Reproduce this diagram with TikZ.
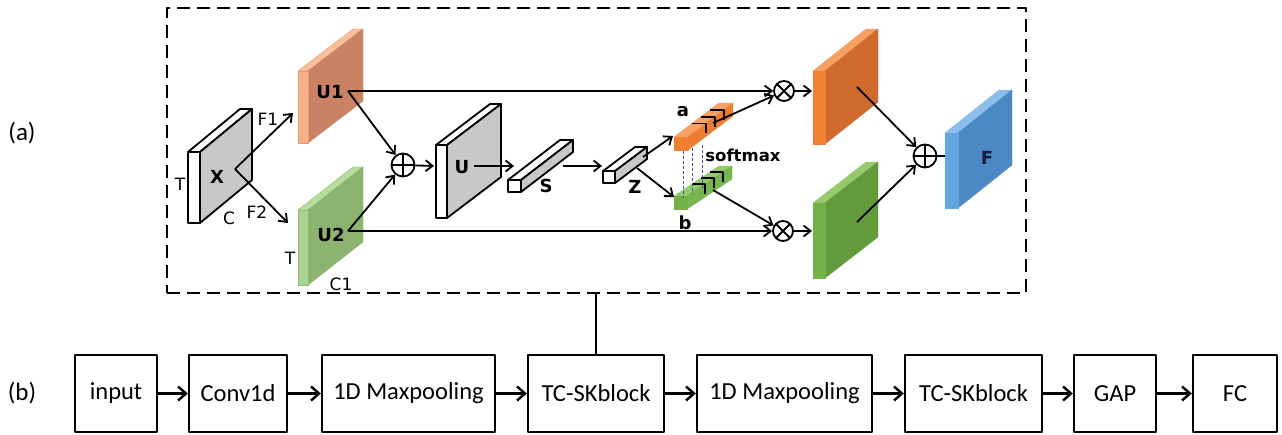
\documentclass[tikz,border=0pt]{standalone}
\usepackage{fontspec}
\setmainfont{Carlito}
\newfontfamily\labfont{DejaVu Sans}
\usetikzlibrary{arrows.meta}
\definecolor{uonetop}{RGB}{248,192,155}
\definecolor{uonefront}{RGB}{246,176,140}
\definecolor{uoneside}{RGB}{201,130,100}
\definecolor{uoneedge}{RGB}{240,150,105}
\definecolor{utwotop}{RGB}{184,220,158}
\definecolor{utwofront}{RGB}{170,210,145}
\definecolor{utwoside}{RGB}{140,180,112}
\definecolor{utwoedge}{RGB}{140,190,100}
\definecolor{ortop}{RGB}{246,160,100}
\definecolor{orfront}{RGB}{240,128,50}
\definecolor{orside}{RGB}{208,106,45}
\definecolor{grtop}{RGB}{150,200,110}
\definecolor{grfront}{RGB}{115,178,72}
\definecolor{grside}{RGB}{98,155,60}
\definecolor{bltop}{RGB}{140,190,235}
\definecolor{blfront}{RGB}{100,165,225}
\definecolor{blside}{RGB}{76,136,196}
\definecolor{slabgray}{RGB}{200,200,200}
\definecolor{softblue}{RGB}{47,85,151}
\definecolor{fnavy}{RGB}{20,30,60}
% #1 x0, #2 ytop, #3 w, #4 h, #5 dx, #6 dy, #7 front style, #8 top style, #9 side style
\newcommand{\slabshape}[9]{%
  \filldraw[#8] (#1,#2) -- (#1+#3,#2) -- (#1+#3+#5,#2+#6) -- (#1+#5,#2+#6) -- cycle;
  \filldraw[#9] (#1+#3,#2) -- (#1+#3+#5,#2+#6) -- (#1+#3+#5,#2+#4+#6) -- (#1+#3,#2+#4) -- cycle;
  \filldraw[#7] (#1,#2) rectangle (#1+#3,#2+#4);
}
\begin{document}
\begin{tikzpicture}[x=1pt,y=-1pt,line join=round,
  arr/.style={-{Straight Barb[length=7pt,width=11pt,line width=1.8pt]},line width=1.8pt},
  barr/.style={-{Straight Barb[length=8pt,width=14pt,line width=2.4pt]},line width=2.4pt},
  lbl/.style={font=\labfont\fontsize{18}{20}\selectfont\bfseries,inner sep=0pt},
  lblsm/.style={font=\labfont\fontsize{16.5}{20}\selectfont\bfseries,inner sep=0pt},
  lblr/.style={font=\labfont\fontsize{17}{20}\selectfont,inner sep=0pt},
  tag/.style={font=\fontsize{25}{28}\selectfont,inner sep=0pt},
  blk/.style={draw,line width=2.3pt,minimum height=77pt,inner sep=0pt,font=\fontsize{24.5}{28}\selectfont},
  opl/.style={draw,circle,line width=1.8pt,minimum size=23pt,inner sep=0pt,
    path picture={\draw[line width=1.8pt] (path picture bounding box.north) -- (path picture bounding box.south)
      (path picture bounding box.west) -- (path picture bounding box.east);}},
  otm/.style={draw,circle,line width=1.8pt,minimum size=20pt,inner sep=0pt,
    path picture={\draw[line width=1.8pt] (path picture bounding box.north west) -- (path picture bounding box.south east)
      (path picture bounding box.south west) -- (path picture bounding box.north east);}},
  edge/.style={draw=black,line width=1.8pt},
  thin/.style={line width=1pt}
]
\useasboundingbox (0,0) rectangle (1282,434);
\fill[white] (0,0) rectangle (1282,434);

% ---------- labels (a), (b)
\node[tag] (taga) at (22,133) {(a)};
\node[tag] (tagb) at (22,393) {(b)};

% ---------- dashed frame
\node[draw,line width=2.4pt,dash pattern=on 13pt off 7pt,minimum width=859pt,minimum height=285pt,inner sep=0pt] (frame) at (596.5,150.5) {};

% ---------- X slab
\slabshape{188}{152}{12}{71}{52}{-43}{fill=white,edge}{fill=white,edge}{fill=slabgray,edge}
\node[lbl] (xl) at (217,177) {X};
\node[lblr] (xt) at (180,184) {T};
\node[lblr] (xcc) at (229,218) {C};
\node[lblr] (f1) at (268,119) {F1};
\node[lblr] (f2) at (257,212) {F2};
\coordinate (xc) at (235,169);

% ---------- U1, U2 slabs
\slabshape{298}{71}{10}{72}{55}{-42}{fill=uonefront,draw=uoneedge}{fill=uonetop,draw=uoneedge}{fill=uoneside,draw=uoneside}
\slabshape{298}{210}{10}{75}{55}{-43}{fill=utwofront,draw=utwoedge}{fill=utwotop,draw=utwoedge}{fill=utwoside,draw=utwoside}
\node[lbl] (u1l) at (330,92) {U1};
\node[lbl] (u2l) at (331,235) {U2};
\node[lblr] (u2t) at (290,258) {T};
\node[lblr] (u2c) at (341,284) {C1};
\coordinate (u1in) at (293,113);
\coordinate (u2in) at (288,223);
\coordinate (u1e) at (348,91);
\coordinate (u2e) at (348,231);

% ---------- U slab
\slabshape{436}{145}{11}{73}{54}{-41}{fill=white,edge}{fill=white,edge}{fill=slabgray,edge}
\node[lbl] (ul) at (462,167) {U};
\coordinate (uin) at (434,166);
\coordinate (uout) at (474,166);

% ---------- S, Z bars
\slabshape{508}{180}{13}{12}{52}{-40}{fill=white,edge}{fill=white,edge}{fill=slabgray,edge}
\node[lbl] (sl) at (546,186) {S};
\coordinate (sin) at (514,166);
\coordinate (sout) at (563,166);
\slabshape{603}{171}{12}{12}{32}{-24}{fill=white,edge}{fill=white,edge}{fill=slabgray,edge}
\node[lbl] (zl) at (635,187) {Z};
\coordinate (zin) at (602,166);
\coordinate (zouta) at (643,157);
\coordinate (zoutb) at (637,168);

% ---------- a, b vectors
\slabshape{674}{137}{14}{13}{45}{-34}{fill=orfront,draw=orfront}{fill=ortop,draw=ortop}{fill=orfront!90!orside,draw=orfront}
\slabshape{674}{196}{13}{13}{45}{-30}{fill=grfront,draw=grfront}{fill=grtop,draw=grtop}{fill=grfront!85!grtop,draw=grfront}
\foreach \t in {0.4,0.6,0.8}{
  \draw[line width=1.8pt] (674+\t*45,137-\t*34) -- ++(14,0) -- ++(0,10);
  \draw[line width=1.8pt] (674+\t*45,196-\t*30) -- ++(13,0) -- ++(0,10);
}
\draw[softblue,thin,dash pattern=on 3pt off 2pt] (683,151) -- (683,198);
\draw[softblue,thin,dash pattern=on 3pt off 2pt] (692,148) -- (692,194);
\draw[softblue,thin,dash pattern=on 3pt off 2pt] (702,145) -- (702,189);
\node[lbl] (al) at (683,112) {a};
\node[lbl] (bl) at (685,223) {b};
\node[lblsm] (sm) at (743,155) {softmax};
\coordinate (ain) at (673,136);
\coordinate (bin) at (674,197);
\coordinate (aout) at (713,123);
\coordinate (bout) at (713,190);

% ---------- otimes
\node[otm] (ot1) at (784,91) {};
\node[otm] (ot2) at (783,231) {};

% ---------- right plates
\slabshape{813}{71}{12}{73}{53}{-42}{fill=orfront,draw=orfront}{fill=ortop,draw=ortop}{fill=orside,draw=orside}
\slabshape{813}{203}{12}{75}{53}{-41}{fill=grfront,draw=grfront}{fill=grtop,draw=grtop}{fill=grside,draw=grside}
\coordinate (oin) at (812,91);
\coordinate (gin) at (812,231);
\coordinate (oc) at (857,87);
\coordinate (gc) at (857,222);

% ---------- oplus
\node[opl] (op1) at (403,165) {};
\node[opl] (op2) at (925,156) {};

% ---------- F slab
\slabshape{945}{133}{13}{75}{54}{-43}{fill=blfront,draw=blfront}{fill=bltop,draw=bltop}{fill=blside,draw=blside}
\node[lbl,text=fnavy] (fl) at (987,158) {F};
\coordinate (fin) at (945,156);

% ---------- connectors (top)
\draw[arr] (xc) -- (u1in);
\draw[arr] (xc) -- (u2in);
\draw[arr] (u1e) -- (op1);
\draw[arr] (u2e) -- (op1);
\draw[arr] (op1) -- (uin);
\draw[arr] (u1e) -- (ot1);
\draw[arr] (u2e) -- (ot2);
\draw[arr] (uout) -- (sin);
\draw[arr] (sout) -- (zin);
\draw[arr] (zouta) -- (ain);
\draw[arr] (zoutb) -- (bin);
\draw[arr] (aout) -- (ot1);
\draw[arr] (bout) -- (ot2);
\draw[arr] (ot1) -- (oin);
\draw[arr] (ot2) -- (gin);
\draw[arr] (oc) -- (op2);
\draw[arr] (gc) -- (op2);
\draw[line width=1.8pt] (op2) -- (fin);

% ---------- bottom row
\node[blk,minimum width=82pt] (inp) at (116,393.5) {input};
\node[blk,minimum width=98pt] (conv) at (238,393.5) {Conv1d};
\node[blk,minimum width=173pt] (mp1) at (408.5,393.5) {1D Maxpooling};
\node[blk,minimum width=136pt] (tc1) at (596,393.5) {TC-SKblock};
\node[blk,minimum width=175pt] (mp2) at (784.5,393.5) {1D Maxpooling};
\node[blk,minimum width=137pt] (tc2) at (973.5,393.5) {TC-SKblock};
\node[blk,minimum width=82pt] (gap) at (1115,393.5) {GAP};
\node[blk,minimum width=84pt] (fc) at (1235,393.5) {FC};
\draw[barr] (inp) -- (conv);
\draw[barr] (conv) -- (mp1);
\draw[barr] (mp1) -- (tc1);
\draw[barr] (tc1) -- (mp2);
\draw[barr] (mp2) -- (tc2);
\draw[barr] (tc2) -- (gap);
\draw[barr] (gap) -- (fc);
\draw[line width=2.3pt] (frame.south -| tc1.north) -- (tc1.north);
\end{tikzpicture}
\end{document}
